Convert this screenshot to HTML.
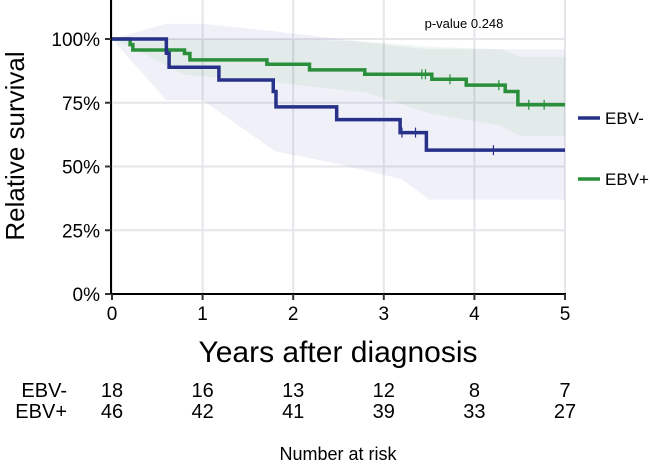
<!DOCTYPE html>
<html><head><meta charset="utf-8"><style>
body{margin:0;background:#fff;font-family:"Liberation Sans",sans-serif}
svg{display:block}
text{font-family:"Liberation Sans",sans-serif;fill:#000}
</style></head><body>
<svg id="c" width="650" height="464" viewBox="0 0 650 464"></svg>
<script>
const timeTicks=[0,1,2,3,4,5];
const pctTicks=[0,25,50,75,100];
const blueT=[0,0.6,0.63,1.18,1.78,1.81,2.48,3.18,3.47,5];
const blueS=[100,94.4,88.9,83.9,79.4,73.4,68.4,63.3,56.4,56.4];
const blueCensor=[[3.2,63.3],[3.35,63.3],[4.21,56.4]];
const greenT=[0,0.2,0.23,0.8,0.86,1.71,2.18,2.79,3.53,3.91,4.34,4.48,5];
const greenS=[100,97.8,95.7,94.3,91.8,90.1,87.9,86.2,84.2,81.9,79.4,74.2,74.2];
const greenCensor=[[3.42,86.2],[3.46,86.2],[3.73,84.2],[4.27,81.9],[4.6,74.2],[4.77,74.2]];
const blueBandT=[0,0.6,1.0,1.8,2.5,3.2,3.5,5];
const blueUp=[100,106,106,103,100,97,96,96];
const blueLo=[100,76,76,56,51,45,37,37];
const greenBandT=[0,0.2,0.8,1.8,2.8,3.5,4.3,4.5,5];
const greenUp=[100,100,100,100,99,97,96,93,93];
const greenLo=[100,97,86,83,79,71,66,62,62];
const riskGroups=["EBV-","EBV+"];
const riskBlue=[18,16,13,12,8,7];
const riskGreen=[46,42,41,39,33,27];

const X=t=>112+t*90.6, Y=p=>294-p*2.55;
const svg=document.getElementById('c');
const NS='http://www.w3.org/2000/svg';
function el(tag,attrs,parent){const e=document.createElementNS(NS,tag);for(const k in attrs)e.setAttribute(k,attrs[k]);(parent||svg).appendChild(e);return e;}
timeTicks.forEach(t=>{const g=el('line',{x1:X(t),x2:X(t),y1:0,y2:294,stroke:'#e6e6ea','stroke-width':2});

});
pctTicks.forEach(p=>{const g=el('line',{x1:112,x2:565,y1:Y(p),y2:Y(p),stroke:'#e6e6ea','stroke-width':2});

});
function band(T,U,L,fill,name){let d='M'+X(T[0])+','+Y(U[0]);
for(let i=1;i<T.length;i++)d+=' L'+X(T[i])+','+Y(U[i]);
for(let i=T.length-1;i>=0;i--)d+=' L'+X(T[i])+','+Y(L[i]);
const p=el('path',{d:d+'Z',fill:fill});

}
band(blueBandT,blueUp,blueLo,'rgba(40,50,150,0.07)','ebv-neg-confidence-band');
band(greenBandT,greenUp,greenLo,'rgba(40,140,60,0.07)','ebv-pos-confidence-band');
function steps(T,S,c,name){let d='M'+X(T[0])+','+Y(S[0]);
for(let i=1;i<T.length;i++){d+=' H'+X(T[i])+' V'+Y(S[i]);}
const p=el('path',{d:d,fill:'none',stroke:c,'stroke-width':3.5});

}
steps(greenT,greenS,'#2a8f3a','ebv-pos-curve');
steps(blueT,blueS,'#27318a','ebv-neg-curve');
function cens(arr,c,name){arr.forEach(([t,s])=>{const l=el('line',{x1:X(t),x2:X(t),y1:Y(s)-5,y2:Y(s)+5,stroke:c,'stroke-width':1.2});

});}
cens(blueCensor,'#27318a','ebv-neg-censor-mark');
cens(greenCensor,'#2a8f3a','ebv-pos-censor-mark');
const ya=el('line',{x1:111,x2:111,y1:0,y2:295,stroke:'#000','stroke-width':2});


const xa=el('line',{x1:111,x2:566,y1:294,y2:294,stroke:'#000','stroke-width':2});


pctTicks.forEach(p=>{const tk=el('line',{x1:105,x2:111,y1:Y(p),y2:Y(p),stroke:'#333','stroke-width':2});


const t=el('text',{x:100,y:Y(p)+7,'text-anchor':'end','font-size':19});t.textContent=p+'%';

});
timeTicks.forEach(v=>{const tk=el('line',{x1:X(v),x2:X(v),y1:294,y2:300,stroke:'#333','stroke-width':2});


const t=el('text',{x:X(v),y:320,'text-anchor':'middle','font-size':19});t.textContent=v;

});
const yt=el('text',{x:0,y:0,transform:'translate(24,146) rotate(-90)','text-anchor':'middle','font-size':26});yt.textContent='Relative survival';


const xt=el('text',{x:338,y:362,'text-anchor':'middle','font-size':30});xt.textContent='Years after diagnosis';


const pv=el('text',{x:464,y:28,'text-anchor':'middle','font-size':13});pv.textContent='p-value 0.248';


[['EBV-','#27318a',118],['EBV+','#2a8f3a',179]].forEach(([n,c,y])=>{
const l=el('line',{x1:578,x2:600,y1:y,y2:y,stroke:c,'stroke-width':3.5});


const t=el('text',{x:605,y:y+6,'font-size':17});t.textContent=n;

});
[[riskBlue,397],[riskGreen,418]].forEach(([arr,y],gi)=>{
const g=el('text',{x:67,y:y,'text-anchor':'end','font-size':20});g.textContent=riskGroups[gi];


arr.forEach((v,i)=>{const t=el('text',{x:X(timeTicks[i]),y:y,'text-anchor':'middle','font-size':20});t.textContent=v;

});});
const nr=el('text',{x:338,y:460,'text-anchor':'middle','font-size':18});nr.textContent='Number at risk';


</script>
</body></html>
